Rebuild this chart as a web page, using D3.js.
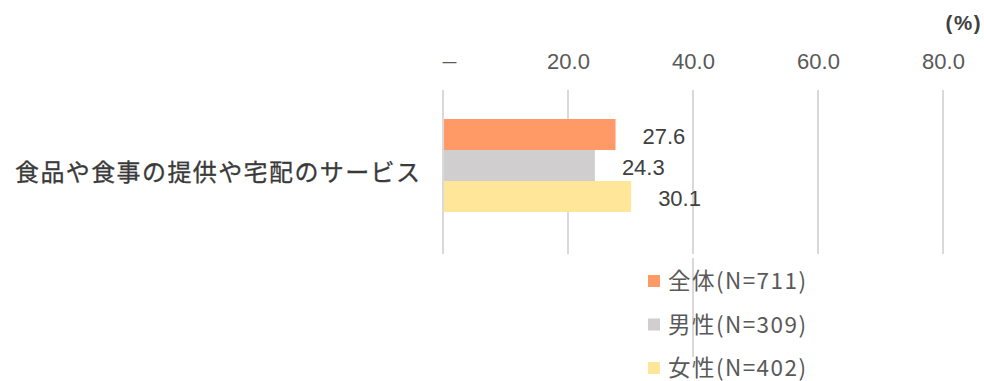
<!DOCTYPE html>
<html>
<head>
<meta charset="utf-8">
<script src="https://cdn.jsdelivr.net/npm/d3@7"></script>
<style>
  html, body { margin: 0; padding: 0; background: #fff; }
  svg { display: block; }
</style>
</head>
<body>
<svg id="chart" width="984" height="381"></svg>
<script>
// Survey item and respondent groups
const category = "食品や食事の提供や宅配のサービス";
const seriesNames = ["全体(N=711)", "男性(N=309)", "女性(N=402)"];
const seriesValues = [27.6, 24.3, 30.1];
const seriesColors = ["#FF9966", "#D0CECE", "#FFE699"];
const tickValues = [0, 20, 40, 60, 80];
const tickLabels = ["－", "20.0", "40.0", "60.0", "80.0"];
const unitLabel = "(%)";

const svg = d3.select("#chart");
const jp = "'Noto Sans CJK JP', 'Noto Sans', sans-serif";
const num = "'Liberation Sans', Arial, sans-serif";

const x = d3.scaleLinear().domain([0, 80]).range([443, 943]);
const band = d3.scaleBand().domain([category]).range([90, 254]).paddingInner(0).paddingOuter(0);
const inner = d3.scaleBand().domain(seriesNames).range([119, 212]).padding(0);

// vertical gridlines
svg.append("g").selectAll("line").data(tickValues).join("line")
  .attr("x1", d => x(d)).attr("x2", d => x(d))
  .attr("y1", band.range()[0]).attr("y2", band.range()[1])
  .attr("stroke", "#D9D9D9").attr("stroke-width", 2);

// lower segment of the 40 line running behind the legend
svg.append("line")
  .attr("x1", x(40)).attr("x2", x(40)).attr("y1", 258).attr("y2", 357)
  .attr("stroke", "#D9D9D9").attr("stroke-width", 2);

// top axis labels
const axis = d3.axisTop(x).tickValues(tickValues).tickFormat((d, i) => tickLabels[i]).tickSize(0);
const ag = svg.append("g").attr("transform", "translate(0,72)").call(axis);
ag.select(".domain").remove();
ag.selectAll("text")
  .attr("font-family", num).attr("font-size", 22).attr("fill", "#595959")
  .attr("dy", 0);
ag.selectAll(".tick").filter(d => d === 0).select("text")
  .attr("font-family", jp).attr("font-size", 19).attr("dx", 6).attr("dy", 1);

// unit label
svg.append("text").attr("x", 982).attr("y", 30).attr("text-anchor", "end")
  .attr("font-family", num).attr("font-size", 20.5).attr("font-weight", "bold")
  .attr("letter-spacing", 1.5)
  .attr("fill", "#404040").text(unitLabel);

// category label
svg.append("text").attr("x", 15).attr("y", band(category) + band.bandwidth() / 2 + 9)
  .attr("font-family", jp).attr("font-size", 24).attr("fill", "#3a3a3a")
  .attr("stroke", "#3a3a3a").attr("stroke-width", 0.3)
  .attr("textLength", 405).attr("lengthAdjust", "spacing")
  .text(category);

// bars
svg.append("g").selectAll("rect").data(seriesValues).join("rect")
  .attr("x", x(0) + 1)
  .attr("y", (d, i) => inner(seriesNames[i]))
  .attr("width", d => x(d) - x(0) - 1)
  .attr("height", inner.bandwidth())
  .attr("fill", (d, i) => seriesColors[i]);

// value labels
svg.append("g").selectAll("text").data(seriesValues).join("text")
  .attr("x", d => x(d) + 27)
  .attr("y", (d, i) => inner(seriesNames[i]) + inner.bandwidth() / 2 + 9)
  .attr("font-family", num).attr("font-size", 22).attr("fill", "#404040")
  .text(d => d.toFixed(1));

// legend
const lg = svg.append("g").selectAll("g").data(seriesNames).join("g")
  .attr("transform", (d, i) => `translate(648,${281 + i * 43.5})`);
lg.append("rect").attr("x", 0).attr("y", -6).attr("width", 12).attr("height", 12)
  .attr("fill", (d, i) => seriesColors[i]);
lg.append("text").attr("x", 20).attr("y", 8)
  .attr("font-family", jp).attr("font-size", 22.5).attr("fill", "#595959")
  .attr("textLength", 138).attr("lengthAdjust", "spacing")
  .text(d => d);
</script>
</body>
</html>
